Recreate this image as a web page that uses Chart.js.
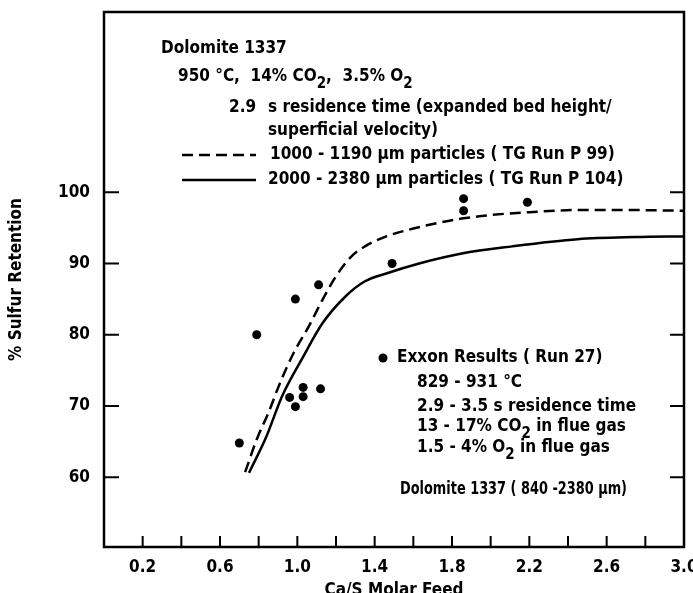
<!DOCTYPE html>
<html>
<head>
<meta charset="utf-8">
<script src="https://cdn.jsdelivr.net/npm/chart.js@4.4.0/dist/chart.umd.min.js"></script>
<style>
  html, body { margin: 0; padding: 0; background: #fff; }
  #wrap { width: 693px; height: 593px; }
</style>
</head>
<body>
<div id="wrap"><canvas id="chart" width="693" height="593"></canvas></div>
<script>
// % sulfur retention vs Ca/S molar feed, dolomite 1337

// TG run P 99 (1000 - 1190 um), dashed curve
const dashedX = [0.73, 0.79, 0.85, 0.91, 0.98, 1.06, 1.13, 1.20, 1.28, 1.35, 1.46, 1.60, 1.73, 1.85, 2.00, 2.20, 2.45, 2.70, 3.00];
const dashedY = [60.7, 65.3, 69.0, 73.2, 77.4, 81.2, 84.9, 88.2, 91.0, 92.4, 93.8, 94.9, 95.7, 96.3, 96.8, 97.2, 97.5, 97.5, 97.4];

// TG run P 104 (2000 - 2380 um), solid curve
const solidX = [0.75, 0.84, 0.92, 1.03, 1.13, 1.25, 1.35, 1.46, 1.63, 1.85, 2.11, 2.45, 2.75, 3.00];
const solidY = [60.6, 65.7, 71.3, 76.9, 81.6, 85.4, 87.5, 88.6, 90.0, 91.4, 92.4, 93.4, 93.7, 93.8];

// Exxon results (run 27)
const exxonX = [0.70, 0.79, 0.96, 0.99, 0.99, 1.03, 1.03, 1.11, 1.12, 1.49, 1.86, 1.86, 2.19];
const exxonY = [64.8, 80.0, 71.2, 69.9, 85.0, 72.6, 71.3, 87.0, 72.4, 90.0, 99.1, 97.4, 98.6];

const xLabels = ['0.2', '0.6', '1.0', '1.4', '1.8', '2.2', '2.6', '3.0'];
const xTickMarks = [0.2, 0.4, 0.6, 0.8, 1.0, 1.2, 1.4, 1.6, 1.8, 2.0, 2.2, 2.4, 2.6, 2.8];
const yTicks = [60, 70, 80, 90, 100];

const FONT = '"DejaVu Sans Condensed", "DejaVu Sans", sans-serif';

// text lines; arrays inside a line are lowered subscripts
const testLines = [
  ['Dolomite 1337'],
  ['950 °C,  14% CO', ['2'], ',  3.5% O', ['2']],
  ['s residence time (expanded bed height/'],
  ['superficial velocity)'],
  ['1000 - 1190 µm particles ( TG Run P 99)'],
  ['2000 - 2380 µm particles ( TG Run P 104)']
];
const exxonLines = [
  ['Exxon Results ( Run 27)'],
  ['829 - 931 °C'],
  ['2.9 - 3.5 s residence time'],
  ['13 - 17% CO', ['2'], ' in flue gas'],
  ['1.5 - 4% O', ['2'], ' in flue gas'],
  ['Dolomite 1337 ( 840 -2380 µm)']
];

function pts(xs, ys) {
  return xs.map((x, i) => ({ x: x, y: ys[i] }));
}

// draws one line of text; fits it into maxW when given
function drawRich(ctx, parts, x, y, maxW) {
  let cx = x;
  parts.forEach(p => {
    const sub = Array.isArray(p);
    const t = sub ? p[0] : p;
    if (sub) {
      ctx.save();
      ctx.font = 'bold 15px ' + FONT;
      ctx.fillText(t, cx, y + 7);
      cx += ctx.measureText(t).width;
      ctx.restore();
    } else if (maxW) {
      ctx.fillText(t, cx, y, maxW);
      cx += Math.min(maxW, ctx.measureText(t).width);
    } else {
      ctx.fillText(t, cx, y);
      cx += ctx.measureText(t).width;
    }
  });
}

const framePlugin = {
  id: 'frame',
  afterDraw(chart) {
    const { ctx, chartArea: a, scales: { x, y } } = chart;
    ctx.save();
    ctx.strokeStyle = '#000';
    ctx.lineWidth = 2.5;
    ctx.strokeRect(a.left, a.top, a.right - a.left, a.bottom - a.top);

    // inward tick marks
    ctx.lineWidth = 2;
    ctx.beginPath();
    xTickMarks.forEach(v => {
      const px = x.getPixelForValue(v);
      ctx.moveTo(px, a.bottom);
      ctx.lineTo(px, a.bottom - 11);
    });
    yTicks.forEach(v => {
      const py = y.getPixelForValue(v);
      ctx.moveTo(a.left, py);
      ctx.lineTo(a.left + 15, py);
      ctx.moveTo(a.right, py);
      ctx.lineTo(a.right - 14, py);
    });
    ctx.stroke();

    // notes
    ctx.fillStyle = '#000';
    ctx.textBaseline = 'middle';
    ctx.textAlign = 'left';
    ctx.font = 'bold 17px ' + FONT;
    drawRich(ctx, testLines[0], 161, 49);
    drawRich(ctx, testLines[1], 178, 77);
    drawRich(ctx, ['2.9'], 229, 108);
    drawRich(ctx, testLines[2], 268, 108);
    drawRich(ctx, testLines[3], 268, 131);
    drawRich(ctx, testLines[4], 270, 155);
    drawRich(ctx, testLines[5], 268, 180);

    ctx.lineWidth = 2.5;
    ctx.setLineDash([11, 6]);
    ctx.beginPath();
    ctx.moveTo(182, 155);
    ctx.lineTo(256, 155);
    ctx.stroke();
    ctx.setLineDash([]);
    ctx.beginPath();
    ctx.moveTo(182, 180);
    ctx.lineTo(256, 180);
    ctx.stroke();

    ctx.beginPath();
    ctx.arc(383, 358, 4.5, 0, Math.PI * 2);
    ctx.fill();
    drawRich(ctx, exxonLines[0], 397, 358, 215);
    drawRich(ctx, exxonLines[1], 417, 383);
    drawRich(ctx, exxonLines[2], 417, 407, 229);
    drawRich(ctx, exxonLines[3], 417, 427);
    drawRich(ctx, exxonLines[4], 417, 448);
    drawRich(ctx, exxonLines[5], 400, 490, 227);
    ctx.restore();
  }
};

new Chart(document.getElementById('chart'), {
  type: 'line',
  data: {
    datasets: [{
      label: '1000 - 1190 µm particles (TG Run P 99)',
      data: pts(dashedX, dashedY),
      borderColor: '#000',
      borderWidth: 2.5,
      borderDash: [11, 6],
      pointRadius: 0,
      cubicInterpolationMode: 'monotone',
      fill: false
    }, {
      label: '2000 - 2380 µm particles (TG Run P 104)',
      data: pts(solidX, solidY),
      borderColor: '#000',
      borderWidth: 2.5,
      pointRadius: 0,
      cubicInterpolationMode: 'monotone',
      fill: false
    }, {
      label: 'Exxon Results (Run 27)',
      data: pts(exxonX, exxonY),
      showLine: false,
      pointRadius: 4.5,
      pointBackgroundColor: '#000',
      pointBorderColor: '#000',
      pointBorderWidth: 0
    }]
  },
  options: {
    responsive: false,
    animation: false,
    events: [],
    layout: { padding: { left: 0, right: 9, top: 12, bottom: 0 } },
    plugins: { legend: { display: false }, tooltip: { enabled: false } },
    scales: {
      x: {
        type: 'linear',
        min: 0,
        max: 3,
        grid: { display: false, drawTicks: false },
        border: { display: false },
        afterBuildTicks: s => { s.ticks = xLabels.map(v => ({ value: Number(v) })); },
        afterFit: s => { s.height = 46; s.paddingLeft = 0; s.paddingRight = 0; },
        ticks: {
          color: '#000',
          padding: 10,
          maxRotation: 0,
          autoSkip: false,
          font: { family: FONT, size: 17, weight: 'bold' },
          callback: v => v.toFixed(1)
        },
        title: {
          display: true,
          text: 'Ca/S Molar Feed',
          color: '#000',
          font: { family: FONT, size: 17, weight: 'bold', lineHeight: 1 },
          padding: { top: 0, bottom: -6 }
        }
      },
      y: {
        type: 'linear',
        min: 50.2,
        max: 125.3,
        grid: { display: false, drawTicks: false },
        border: { display: false },
        afterBuildTicks: s => { s.ticks = yTicks.map(v => ({ value: v })); },
        afterFit: s => { s.width = 104; s.paddingTop = 0; s.paddingBottom = 0; },
        ticks: {
          color: '#000',
          padding: 14,
          autoSkip: false,
          font: { family: FONT, size: 17, weight: 'bold' },
          callback: v => String(v)
        },
        title: {
          display: true,
          text: '% Sulfur Retention',
          color: '#000',
          font: { family: FONT, size: 17, weight: 'bold', lineHeight: 1 },
          padding: { top: 8, bottom: 0 }
        }
      }
    }
  },
  plugins: [framePlugin]
});
</script>
</body>
</html>
